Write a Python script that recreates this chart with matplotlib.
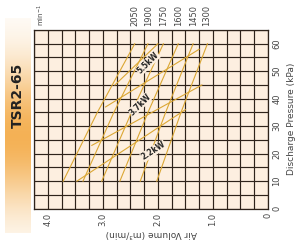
import numpy as np
import matplotlib.pyplot as plt

# blower speeds (min^-1), label order along the top
speeds = ['2050', '1900', '1750', '1600', '1450', '1300']
speed_label_q = [2.42, 2.16, 1.90, 1.63, 1.36, 1.12]

# constant speed curves: air volume (m3/min) vs pressure (kPa)
rpm_q = [
    [3.72, 3.10, 2.42],
    [3.36, 2.80, 2.18],
    [3.02, 2.48, 1.90],
    [2.69, 2.18, 1.63],
    [2.32, 1.86, 1.36],
    [2.02, 1.58, 1.10],
]
rpm_p = [10, 35, 60]

# shaft power lines
pow_q = [
    [3.47, 1.50],
    [3.20, 1.20],
    [2.95, 1.25],
    [2.78, 2.00],
]
pow_p = [
    [10, 36],
    [23, 45],
    [37, 58],
    [45, 60],
]
pow_labels = ['2.2kW', '3.7kW', '5.5kW']
pow_label_q = [2.08, 2.32, 2.18]
pow_label_p = [21, 38, 53]
pow_label_rot = [33, 45, 45]

line_col = '#dba734'
grid_col = '#2e231b'
text_col = '#444444'

fig = plt.figure(figsize=(2.97, 2.48), dpi=100)

# orange side band with the model name
band = fig.add_axes([5 / 297, 15 / 248, 25 / 297, 215 / 248])
yy = np.linspace(0, 1, 200)
a = np.exp(-((yy - 0.55) / 0.33) ** 2)
img = np.zeros((200, 1, 4))
img[:, 0, 0] = 0.96
img[:, 0, 1] = 0.68
img[:, 0, 2] = 0.30
img[:, 0, 3] = a * 0.95
band.imshow(img, aspect='auto', extent=[0, 1, 0, 1])
band.axis('off')
fig.text(18 / 297, 1 - 95 / 248, 'TSR2-65', rotation=90, ha='center', va='center',
         fontsize=10, fontweight='bold', color='#222222')

ax = fig.add_axes([34 / 297, 1 - 208.6 / 248, 234 / 297, 178.6 / 248])
ax.set_facecolor('#fdefe0')
ax.set_xlim(4.25, 0)
ax.set_ylim(0, 65)

for v in np.arange(0, 4.26, 0.25):
    ax.axvline(v, color=grid_col, lw=0.85, zorder=1)
for p in np.arange(0, 65.1, 5):
    ax.axhline(p, color=grid_col, lw=0.85, zorder=1)

for q in rpm_q:
    ax.plot(q, rpm_p, color=line_col, lw=0.8, zorder=2)
for q, p in zip(pow_q, pow_p):
    ax.plot(q, p, color=line_col, lw=0.8, zorder=2)

for t, q, p, r in zip(pow_labels, pow_label_q, pow_label_p, pow_label_rot):
    ax.text(q, p, t, rotation=r, ha='center', va='center', fontsize=5.5,
            fontweight='bold', color='#222222', zorder=3,
            bbox=dict(boxstyle='square,pad=0.05', fc='#fdefe0', ec='none'))

for s, q in zip(speeds, speed_label_q):
    ax.text(q, 66.5, s, rotation=90, ha='center', va='bottom', fontsize=6,
            color=text_col, clip_on=False)
ax.text(4.12, 66.5, 'min$^{-1}$', rotation=90, ha='center', va='bottom',
        fontsize=5, color=text_col, clip_on=False)

ax.set_xticks([4.0, 3.0, 2.0, 1.0, 0])
ax.set_xticklabels(['4.0', '3.0', '2.0', '1.0', '0'], rotation=90, fontsize=6, color=text_col)
ax.yaxis.tick_right()
ax.yaxis.set_label_position('right')
ax.set_yticks([0, 10, 20, 30, 40, 50, 60])
ax.set_yticklabels(['0', '10', '20', '30', '40', '50', '60'], rotation=90, fontsize=6,
                   color=text_col, va='center')
ax.tick_params(length=0, pad=3)
ax.set_xlabel('Air Volume (m³/min)', rotation=180, fontsize=6.5, color=text_col, labelpad=2)
ax.set_ylabel('Discharge Pressure (kPa)', rotation=90, fontsize=6.5, color=text_col, labelpad=4)
for sp in ax.spines.values():
    sp.set_color(grid_col)
    sp.set_linewidth(0.9)

fig.savefig('out.png', dpi=100)
